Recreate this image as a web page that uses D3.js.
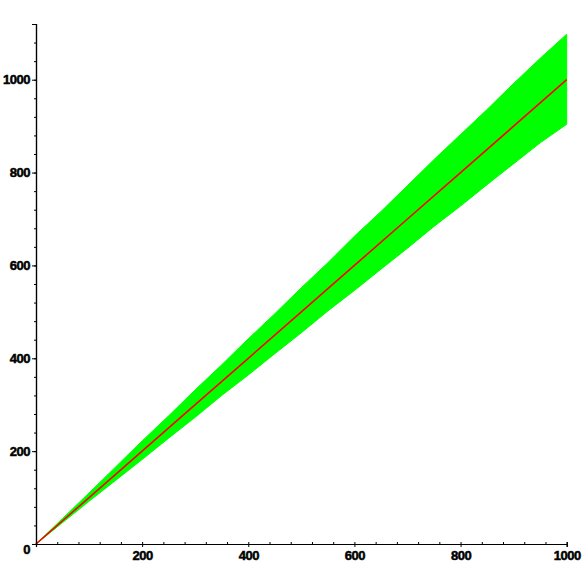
<!DOCTYPE html>
<html>
<head>
<meta charset="utf-8">
<script src="https://cdn.jsdelivr.net/npm/d3@7"></script>
<style>
  body { margin: 0; background: #fff; }
  svg text { font-family: "Liberation Sans", Arial, sans-serif; font-weight: bold; font-size: 13px; letter-spacing: -0.5px; stroke: #000; stroke-width: 0.5px; }
</style>
</head>
<body>
<div id="chart"></div>
<script>
// values
var bandX  = [0, 50, 100, 150, 200, 250, 300, 350, 400, 450, 500, 550, 600, 650, 700, 750, 800, 850, 900, 950, 1000];
var bandHi = [0, 55, 110, 166, 222, 276, 332, 386, 442, 496, 552, 606, 663, 716, 772, 828, 882, 936, 992, 1046, 1098];
var bandLo = [0, 46,  92, 137, 182, 228, 273, 320, 364, 410, 455, 502, 546, 592, 637, 684, 728, 774, 819,  864,  904];
var redX = [0, 100, 200, 300, 400, 500, 600, 700, 800, 900, 1000];
var redY = [0, 100, 200, 300, 400, 500, 600, 700, 800, 900, 1000];
var xTicks = [200, 400, 600, 800, 1000];
var yTicks = [0, 200, 400, 600, 800, 1000];

var w = 584, h = 584;

var x = d3.scaleLinear().domain([0, 1000]).range([36, 566.7]);
var y = d3.scaleLinear().domain([0, 1120]).range([544, 24]);

var svg = d3.select("#chart").append("svg")
  .attr("width", w)
  .attr("height", h);

// green band
var band = bandX.map(function(d, i) { return {x: d, lo: bandLo[i], hi: bandHi[i]}; });
svg.append("path")
  .datum(band)
  .attr("fill", "#00ff00")
  .attr("stroke", "#00ff00")
  .attr("stroke-width", 1)
  .attr("d", d3.area()
    .x(function(d) { return x(d.x); })
    .y0(function(d) { return y(d.lo); })
    .y1(function(d) { return y(d.hi); }));

// red line
var red = redX.map(function(d, i) { return {x: d, y: redY[i]}; });
svg.append("path")
  .datum(red)
  .attr("fill", "none")
  .attr("stroke", "#ff0000")
  .attr("stroke-width", 1.6)
  .attr("d", d3.line()
    .x(function(d) { return x(d.x); })
    .y(function(d) { return y(d.y); }));

// x axis
var gx = svg.append("g").attr("transform", "translate(0,544)");
gx.call(d3.axisBottom(x).tickValues(d3.range(40, 1001, 40)).tickSize(-2).tickFormat(""));
gx.append("g").call(d3.axisBottom(x).tickValues(xTicks).tickSize(3).tickPadding(4).tickFormat(d3.format("d")));
gx.selectAll("path.domain").attr("stroke", "#000").attr("stroke-width", 1.2);
gx.selectAll("text").attr("fill", "#000");

// y axis
var gy = svg.append("g").attr("transform", "translate(36,0)");
gy.call(d3.axisLeft(y).tickValues(d3.range(40, 1121, 40)).tickSize(2).tickFormat(""));
gy.append("g").call(d3.axisLeft(y).tickValues(yTicks).tickSize(4).tickPadding(2).tickFormat(d3.format("d")));
gy.selectAll("path.domain").attr("stroke", "#000").attr("stroke-width", 1.2);
gy.selectAll("text").attr("fill", "#000");
// the zero label sits a little lower
gy.selectAll(".tick text").filter(function(d) { return d === 0; }).attr("dy", "0.7em");
</script>
</body>
</html>
